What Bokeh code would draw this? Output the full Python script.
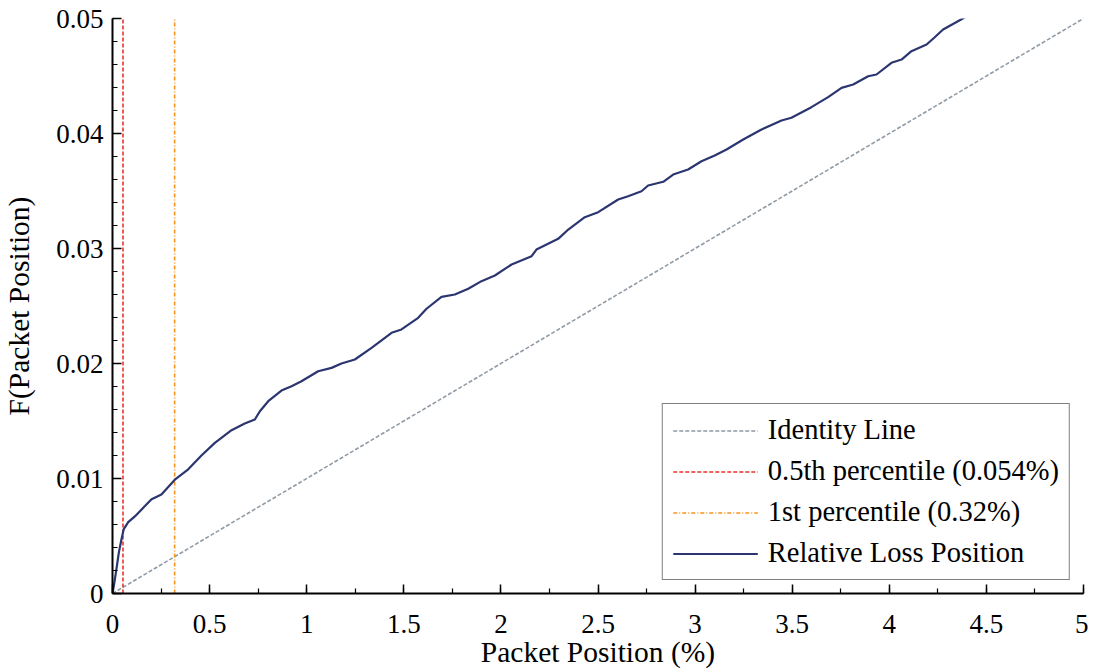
from bokeh.plotting import figure
from bokeh.models import Range1d, SingleIntervalTicker, CustomJSTickFormatter, Legend, LegendItem
from bokeh.embed import file_html
from bokeh.resources import INLINE

# ---- data ----
loss_x = [0, 0.012, 0.02, 0.033, 0.046, 0.058, 0.081, 0.115, 0.167, 0.201, 0.252, 0.321, 0.39, 0.458,
          0.527, 0.613, 0.681, 0.733, 0.759, 0.802, 0.870, 0.922, 0.973, 1.059, 1.128, 1.179, 1.248,
          1.334, 1.437, 1.488, 1.574, 1.617, 1.694, 1.763, 1.832, 1.900, 1.969, 2.055, 2.158, 2.183,
          2.295, 2.347, 2.432, 2.501, 2.604, 2.655, 2.724, 2.758, 2.836, 2.887, 2.964, 3.033, 3.101,
          3.162, 3.25, 3.342, 3.445, 3.496, 3.599, 3.685, 3.754, 3.814, 3.891, 3.934, 4.011, 4.063,
          4.114, 4.192, 4.234, 4.277, 4.372, 4.39]
loss_y = [0, 0.0012, 0.0021, 0.0036, 0.0047, 0.0056, 0.0062, 0.0067, 0.0076, 0.0082, 0.0086, 0.0099,
          0.0108, 0.0120, 0.0131, 0.0142, 0.01478, 0.01513, 0.01585, 0.01672, 0.01765, 0.01803,
          0.01846, 0.01933, 0.01962, 0.0200, 0.02035, 0.02136, 0.02267, 0.02296, 0.02397, 0.02476,
          0.0258, 0.0260, 0.0265, 0.02716, 0.02765, 0.02861, 0.02933, 0.02991, 0.03084, 0.03165,
          0.03272, 0.03316, 0.03426, 0.03455, 0.03498, 0.03548, 0.0358, 0.03643, 0.03687, 0.03759,
          0.03809, 0.03861, 0.0395, 0.04035, 0.04113, 0.04137, 0.04229, 0.04316, 0.04397, 0.04426,
          0.04498, 0.04513, 0.04615, 0.04643, 0.04716, 0.04774, 0.04837, 0.04904, 0.04994, 0.0501]
identity_x = [0, 5]
identity_y = [0, 0.05]
p05_x = 0.054
p1_x = 0.32
x_limits = (0, 5)
y_limits = (0, 0.05)
labels = ["Identity Line", "0.5th percentile (0.054%)", "1st percentile (0.32%)", "Relative Loss Position"]

FONT = "Liberation Serif"

p = figure(frame_width=971, frame_height=575, output_backend="svg", toolbar_location=None,
           x_range=Range1d(*x_limits), y_range=Range1d(*y_limits),
           min_border_left=103, min_border_top=18, min_border_right=5, min_border_bottom=4)
p.outline_line_color = None
p.xgrid.visible = False
p.ygrid.visible = False
p.background_fill_color = "white"
p.border_fill_color = "white"

r_id = p.line(identity_x, identity_y, line_color="#8f9ba6", line_width=1.6, line_dash="4 2")
r_p05 = p.line([p05_x, p05_x], list(y_limits), line_color="#e8342c", line_width=1.6, line_dash="4 2")
r_p1 = p.line([p1_x, p1_x], list(y_limits), line_color="#f7941d", line_width=1.6, line_dash="4 2 1 2")
r_loss = p.line(loss_x, loss_y, line_color="#2b3670", line_width=2.2)

fmt = CustomJSTickFormatter(code="return String(Number(tick.toFixed(4)));")

for ax in (p.xaxis[0], p.yaxis[0]):
    ax.formatter = fmt
    ax.axis_line_color = "black"
    ax.axis_line_width = 2
    ax.major_tick_line_color = "black"
    ax.minor_tick_line_color = "black"
    ax.major_tick_line_width = 1.5
    ax.minor_tick_line_width = 1.2
    ax.major_tick_in = 9
    ax.major_tick_out = 0
    ax.minor_tick_in = 5
    ax.minor_tick_out = 0
    ax.major_label_text_font = FONT
    ax.major_label_text_font_size = "27px"
    ax.major_label_text_color = "black"
    ax.axis_label_text_font = FONT
    ax.axis_label_text_font_size = "29.5px"
    ax.axis_label_text_font_style = "normal"
    ax.axis_label_text_color = "black"

p.xaxis[0].ticker = SingleIntervalTicker(interval=0.5, num_minor_ticks=2)
p.yaxis[0].ticker = SingleIntervalTicker(interval=0.01, num_minor_ticks=5)
p.xaxis[0].axis_label = "Packet Position (%)"
p.yaxis[0].axis_label = "F(Packet Position)"
p.xaxis[0].major_label_standoff = 21
p.xaxis[0].axis_label_standoff = 0
p.yaxis[0].major_label_standoff = 9
p.yaxis[0].axis_label_standoff = 18

legend = Legend(items=[LegendItem(label=labels[0], renderers=[r_id]),
                       LegendItem(label=labels[1], renderers=[r_p05]),
                       LegendItem(label=labels[2], renderers=[r_p1]),
                       LegendItem(label=labels[3], renderers=[r_loss])],
                location="bottom_right")
legend.margin = 13
legend.padding = 10
legend.spacing = 9
legend.glyph_width = 85
legend.glyph_height = 31
legend.label_height = 31
legend.label_standoff = 10
legend.label_text_font = FONT
legend.label_text_font_size = "28.5px"
legend.label_text_color = "black"
legend.border_line_color = "black"
legend.border_line_width = 1.5
legend.background_fill_color = "white"
legend.background_fill_alpha = 1.0
p.add_layout(legend, "center")

open("out.html", "w").write(file_html(p, INLINE))
